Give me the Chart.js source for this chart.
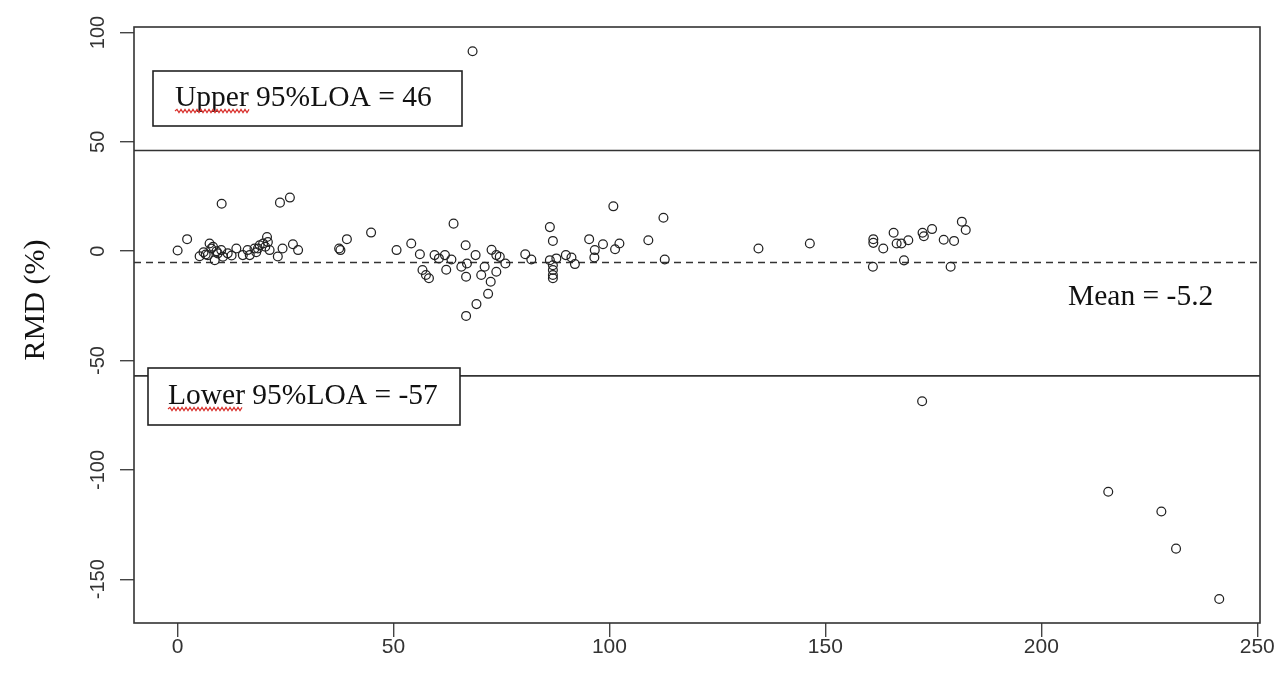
<!DOCTYPE html>
<html>
<head>
<meta charset="utf-8">
<script src="https://cdn.jsdelivr.net/npm/chart.js@4.4.0/dist/chart.umd.min.js"></script>
<style>
    html, body { margin: 0; padding: 0; background: #fff; }
    #wrap { width: 1279px; height: 681px; }
</style>
</head>
<body>
<div id="wrap"><canvas id="rmdChart" width="1279" height="681"></canvas></div>
<script>
// 坐标轴刻度
const xTicks = [0, 50, 100, 150, 200, 250];
const yTicks = [-150, -100, -50, 0, 50, 100];
const xRange = [-10.1, 250.64];
const yRange = [-170, 102.5];

// 均值与一致性界限
const meanDiff = -5.2;
const upperLOA = 46;
const lowerLOA = -57;

// 散点数据 (x: 均值, y: RMD %)
const meanX = [
    0.0, 2.2, 10.2, 23.7, 26.0, 5.1, 6.0, 6.5, 7.0, 7.4, 7.8, 8.2, 8.6, 9.0, 9.3, 10.1, 10.5, 11.6,
    12.5, 13.6, 15.1, 16.2, 16.7, 17.8, 18.2, 18.6, 19.0, 19.8, 20.3, 20.7, 20.9, 21.3, 23.2, 24.3,
    26.7, 27.9,
    37.4, 37.7, 39.2, 44.8, 50.7, 54.1, 56.1, 56.7, 57.5, 58.2, 59.5, 60.5, 61.9, 62.2, 63.4, 63.9,
    65.7, 66.7, 66.8, 67.0, 66.8, 68.3, 69.0, 69.2, 70.3, 71.1, 71.9, 72.5, 72.7, 73.8, 73.8, 74.6,
    75.9, 80.5, 81.9, 86.2, 86.9, 86.2, 86.9, 86.9, 86.9, 86.9, 87.7, 89.9, 91.2, 92.0, 95.3, 96.6,
    96.5, 98.5, 100.9, 101.3, 102.3, 109.0, 112.5, 112.8,
    134.5, 146.4, 161.1, 161.1, 161.0, 163.4, 165.8, 166.5, 167.6, 169.2, 168.2, 172.5, 172.8, 174.7,
    177.4, 179.0, 179.8, 181.6, 182.5,
    172.4, 215.5, 227.8, 231.2, 241.2
];
const rmd = [
    0.3, 5.5, 21.7, 22.2, 24.5, -2.3, -0.5, -1.5, -1.8, 3.5, 1.2, 2.0, -4.1, 0.0, -1.0, 0.5, -2.5, -1.0,
    -2.0, 1.2, -1.8, 0.5, -1.8, 1.2, -0.5, 1.2, 2.7, 3.5, 2.0, 6.5, 4.2, 0.5, -2.4, 1.2,
    3.2, 0.5,
    1.2, 0.5, 5.5, 8.5, 0.5, 3.5, -1.4, -8.6, -10.9, -12.4, -1.8, -3.3, -1.8, -8.5, -3.8, 12.6,
    -7.1, 2.7, -11.7, -5.6, -29.6, 91.4, -1.8, -24.2, -10.9, -7.1, -19.5, -14.0, 0.6, -1.8, -9.4, -2.6,
    -5.6, -1.4, -3.8, 11.0, 4.7, -4.1, -6.4, -8.6, -10.9, -12.4, -3.3, -1.8, -2.9, -5.9, 5.5, 0.5,
    -2.9, 3.2, 20.5, 0.9, 3.5, 5.0, 15.3, -3.8,
    1.2, 3.5, 5.5, 3.8, -7.1, 1.2, 8.4, 3.5, 3.5, 5.0, -4.2, 8.4, 6.8, 10.1,
    5.2, -7.1, 4.7, 13.5, 9.7,
    -68.6, -110, -119, -136, -159
];

const serif = '"Liberation Serif", "Times New Roman", serif';
const sans = '"Liberation Sans", Arial, sans-serif';

// 红色波浪下划线
function squiggle(ctx, x0, x1, y) {
    ctx.save();
    ctx.strokeStyle = '#d9302c';
    ctx.lineWidth = 1.2;
    ctx.beginPath();
    ctx.moveTo(x0, y);
    let up = true;
    for (let x = x0 + 2; x <= x1; x += 2) {
        ctx.lineTo(x, up ? y - 1.6 : y + 1.6);
        up = !up;
    }
    ctx.stroke();
    ctx.restore();
}

function labelBox(ctx, x, y, w, h, text, textX) {
    ctx.save();
    ctx.fillStyle = '#fff';
    ctx.fillRect(x, y, w, h);
    ctx.strokeStyle = '#222';
    ctx.lineWidth = 1.6;
    ctx.strokeRect(x, y, w, h);
    ctx.fillStyle = '#111';
    ctx.font = '29.5px ' + serif;
    ctx.textBaseline = 'middle';
    ctx.textAlign = 'left';
    ctx.fillText(text, textX, y + h / 2);
    ctx.restore();
}

// 外框、纵轴刻度文字、轴标题和标注
const decorPlugin = {
    id: 'decor',
    afterDraw(chart) {
        const ctx = chart.ctx;
        const area = chart.chartArea;
        const yScale = chart.scales.y;

        ctx.save();
        ctx.strokeStyle = '#333';
        ctx.lineWidth = 1.6;
        ctx.strokeRect(area.left, area.top, area.right - area.left, area.bottom - area.top);

        // 纵轴刻度文字旋转90度
        ctx.fillStyle = '#333';
        ctx.font = '20px ' + sans;
        ctx.textAlign = 'center';
        ctx.textBaseline = 'middle';
        yTicks.forEach(v => {
            const py = yScale.getPixelForValue(v);
            ctx.save();
            ctx.translate(98, py);
            ctx.rotate(-Math.PI / 2);
            ctx.fillText(String(v), 0, 0);
            ctx.restore();
        });

        // 纵轴标题
        ctx.fillStyle = '#111';
        ctx.font = '30px ' + serif;
        ctx.save();
        ctx.translate(36, 300);
        ctx.rotate(-Math.PI / 2);
        ctx.fillText('RMD (%)', 0, 0);
        ctx.restore();
        ctx.restore();

        labelBox(ctx, 153, 71, 309, 55, 'Upper 95%LOA = ' + upperLOA, 175);
        squiggle(ctx, 175, 250, 111);
        labelBox(ctx, 148, 368, 312, 57, 'Lower 95%LOA = ' + lowerLOA, 168);
        squiggle(ctx, 168, 243, 409);

        ctx.save();
        ctx.fillStyle = '#111';
        ctx.font = '29.5px ' + serif;
        ctx.textBaseline = 'middle';
        ctx.fillText('Mean = ' + meanDiff, 1068, 297);
        ctx.restore();
    }
};

function hLine(y, dash) {
    return {
        type: 'line',
        data: [{ x: xRange[0], y: y }, { x: xRange[1], y: y }],
        borderColor: '#333',
        borderWidth: 1.6,
        borderDash: dash || [],
        pointRadius: 0,
        fill: false
    };
}

document.addEventListener('DOMContentLoaded', function() {
    const ctx = document.getElementById('rmdChart').getContext('2d');
    new Chart(ctx, {
        type: 'scatter',
        data: {
            datasets: [
                {
                    data: meanX.map((x, i) => ({ x: x, y: rmd[i] })),
                    pointRadius: 4.4,
                    pointBorderWidth: 1.25,
                    pointBorderColor: '#222',
                    pointBackgroundColor: 'rgba(0,0,0,0)'
                },
                hLine(upperLOA),
                hLine(lowerLOA),
                hLine(meanDiff, [7, 5])
            ]
        },
        options: {
            responsive: false,
            animation: false,
            layout: { padding: { left: 0, right: 19, top: 27, bottom: 0 } },
            plugins: {
                legend: { display: false },
                tooltip: { enabled: false }
            },
            scales: {
                x: {
                    type: 'linear',
                    min: xRange[0],
                    max: xRange[1],
                    afterBuildTicks: s => { s.ticks = xTicks.map(v => ({ value: v })); },
                    afterFit: s => { s.height = 58; },
                    border: { display: false },
                    grid: { drawOnChartArea: false, drawTicks: true, tickLength: 14, color: '#444', lineWidth: 1.4 },
                    ticks: { color: '#333', font: { family: sans, size: 21 }, padding: -2, maxRotation: 0 }
                },
                y: {
                    type: 'linear',
                    min: yRange[0],
                    max: yRange[1],
                    afterBuildTicks: s => { s.ticks = yTicks.map(v => ({ value: v })); },
                    afterFit: s => { s.width = 134; },
                    border: { display: false },
                    grid: { drawOnChartArea: false, drawTicks: true, tickLength: 14, color: '#444', lineWidth: 1.4 },
                    ticks: { display: false }
                }
            }
        },
        plugins: [decorPlugin]
    });
});
</script>
</body>
</html>
